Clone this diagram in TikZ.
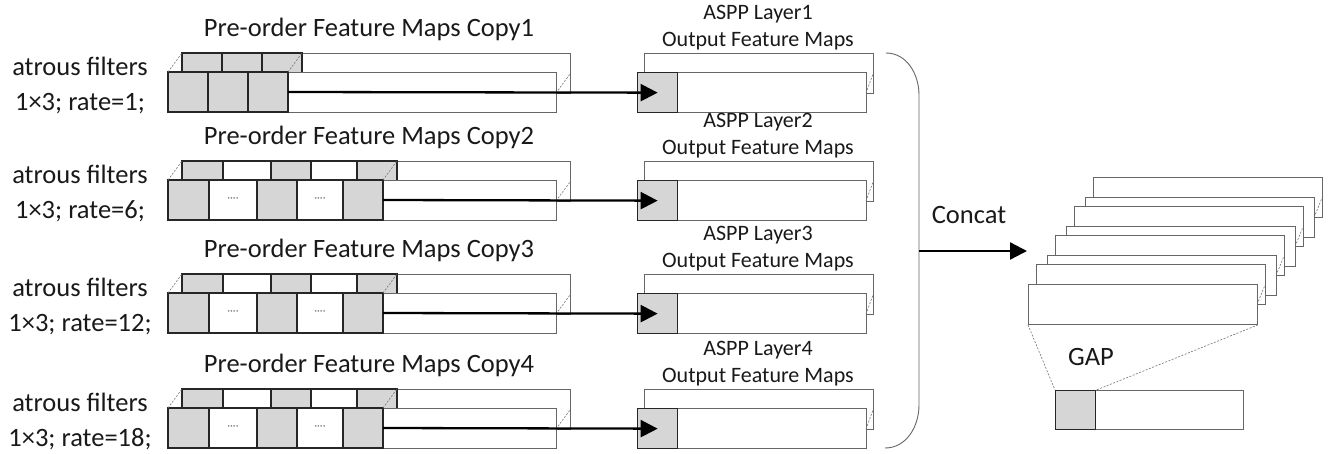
\documentclass[tikz,border=0pt]{standalone}
\usepackage{fontspec}
\setmainfont{Carlito}
\usetikzlibrary{arrows.meta}

\tikzset{
  fmap/.style={draw=black!60, fill=white, line width=0.9pt},
  filt/.style={draw=black!85, fill=black!16, line width=1.3pt},
  hole/.style={draw=black!85, fill=white, line width=1.3pt},
  cell/.style={minimum width=40pt, minimum height=40pt, inner sep=0pt, anchor=north west},
  depth/.style={draw=black!55, dash pattern=on 2pt off 1.5pt, line width=0.6pt},
  flow/.style={-{Triangle[length=17pt,width=17pt]}, line width=2.3pt},
  lbl/.style={font=\fontsize{26.5}{30}\selectfont, text=black!90, anchor=base},
  sub/.style={font=\fontsize{22}{25}\selectfont, text=black!90, anchor=base}
}

\begin{document}
\begin{tikzpicture}[x=1pt,y=-1pt]
\useasboundingbox (0,0) rectangle (1330,453);

\foreach \t/\n/\r/\last in {72/1/1/288, 180/2/6/383, 293/3/12/383, 408/4/18/383} {
  \ifnum\n=1
    \def\cells{168/208/filt,208/248/filt,248/288/filt}
  \else
    \def\cells{168/209/filt,209/257/hole,257/297/filt,297/343/hole,343/383/filt}
  \fi
  % copied input maps, back layer first
  \foreach \dx/\dy in {14/-19,0/0} {
    \draw[fmap] (168+\dx,\t+\dy) rectangle (556+\dx,\t+\dy+40);
    \foreach \a/\b/\s in \cells
      \draw[\s] (\a+\dx,\t+\dy) rectangle (\b+\dx,\t+\dy+40);
  }
  \ifnum\n>1
    \foreach \a/\b in {209/257,297/343}
      \node[font=\fontsize{11}{11}\selectfont, text=black!55] (dots\n\a) at ({(\a+\b)/2},\t+20) {····};
  \fi
  \draw[depth] (168,\t) -- (182,\t-19);
  \draw[depth] (\last,\t) -- (\last+14,\t-19);
  \draw[depth] (556,\t+21) -- (570,\t+2);

  \node[lbl] (title\n) at (369,\t-36) {Pre-order Feature Maps Copy\n};
  \node[lbl] (filt\n) at (80,\t+3) {atrous filters};
  \node[lbl] (rate\n) at (80,\t+38) {1×3; rate=\r;};

  % ASPP outputs
  \draw[fmap] (644,\t-19) rectangle (873,\t+21);
  \draw[fmap] (637,\t) rectangle (866,\t+40);
  \node[filt, cell] (out\n) at (637,\t) {};
  \draw[depth] (866,\t+21) -- (873,\t+2);
  \node[sub] (layer\n) at (758,\t-53) {ASPP Layer\n};
  \node[sub] (ofm\n) at (758,\t-26) {Output Feature Maps};

  \coordinate (src\n) at (\last,\t+20);
  \draw[flow] (src\n) -- (out\n.center);
}

% bracket and concat
\draw[draw=black!60, line width=0.9pt] (886,53) to[out=0,in=90] (919,95) -- (919,405) to[out=-90,in=0] (885,448);
\coordinate (join) at (919,251);
\coordinate (stk) at (1027,251);
\draw[flow] (join) -- (stk);
\node[lbl] (concat) at (969,223) {Concat};

% stacked maps
\foreach \k in {3,2,1} {
  \draw[fmap] (1036+19*\k,264.5-29*\k) rectangle ++(229,40);
  \draw[depth] (1257+19*\k,304.5-29*\k) -- ++(8,-19.5);
  \draw[fmap] (1028+19*\k,284-29*\k) rectangle ++(229,40);
}
\draw[fmap] (1036,264.5) rectangle ++(229,40);
\draw[depth] (1257,304.5) -- ++(8,-19.5);
\node[fmap, cell, minimum width=229pt] (stack) at (1028,284) {};

% global average pooling
\draw[fmap] (1055,390) rectangle (1243,429);
\node[filt, cell, minimum height=39pt] (pool) at (1055,390) {};
\draw[depth] (stack.south west) -- (pool.north west);
\draw[depth] (stack.south east) -- (pool.north east);
\node[lbl] (gap) at (1091,365) {GAP};
\end{tikzpicture}
\end{document}
